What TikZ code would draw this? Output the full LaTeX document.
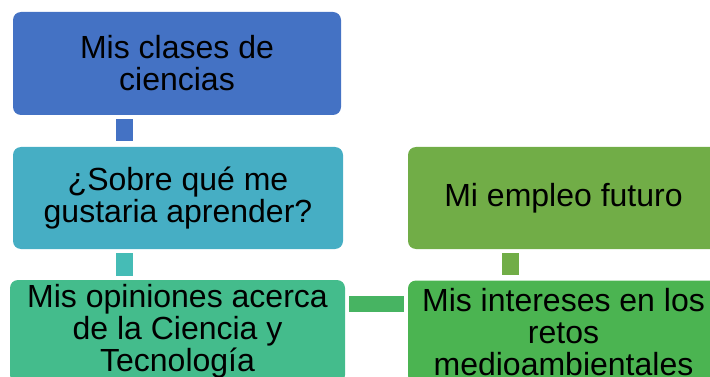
\documentclass[tikz,border=0pt]{standalone}
\usepackage{fontspec}
\setmainfont{Liberation Sans}
\definecolor{clasesblue}{HTML}{4472C4}
\definecolor{gustosteal}{HTML}{46AEC4}
\definecolor{gustoslink}{HTML}{45BCB6}
\definecolor{opinionesgreen}{HTML}{44BC8C}
\definecolor{opinioneslink}{HTML}{47B462}
\definecolor{empleoolive}{HTML}{71AD47}
\definecolor{interesesgreen}{HTML}{4BB451}
\tikzset{
    topicbox/.style={rounded corners=8pt, minimum width=#1, minimum height=103pt,
        inner sep=0pt, align=center, font=\fontsize{32}{32}\selectfont},
    linkbar/.style={line width=17pt}
}

\begin{document}
\begin{tikzpicture}[x=1pt, y=-1pt]
    \useasboundingbox (0,0) rectangle (710,377);
    \clip (0,0) rectangle (710,377);

    \node[topicbox=328pt, fill=clasesblue] (clases) at (177,63.5) {Mis clases de\\ciencias};
    \node[topicbox=330pt, fill=gustosteal, minimum height=102pt] (gustos) at (178,198) {¿Sobre qué me\\gustaria aprender?};
    \node[topicbox=335pt, fill=opinionesgreen] (opiniones) at (177.5,331.5) {Mis opiniones acerca\\de la Ciencia y\\Tecnología};
    \node[topicbox=311pt, fill=empleoolive, minimum height=102pt] (empleo) at (563.5,198) {Mi empleo futuro};
    \node[topicbox=311pt, fill=interesesgreen] (intereses) at (563.5,332) {Mis intereses en los\\retos\\medioambientales};

    \coordinate (c1) at ([xshift=111.5pt]clases.south west);
    \coordinate (c2) at ([xshift=111.5pt]gustos.south west);
    \coordinate (c3) at ([yshift=27.5pt]opiniones.east);
    \coordinate (c4) at ([xshift=102.5pt]empleo.south west);

    \draw[linkbar, draw=clasesblue, shorten <=4pt, shorten >=6pt] (c1) -- (c1 |- gustos.north);
    \draw[linkbar, draw=gustoslink, shorten <=4pt, shorten >=4pt] (c2) -- (c2 |- opiniones.north);
    \draw[linkbar, line width=16pt, draw=opinioneslink, shorten <=4pt, shorten >=4pt] (c3) -- (c3 -| intereses.west);
    \draw[linkbar, draw=empleoolive, shorten <=4pt, shorten >=5pt] (c4) -- (c4 |- intereses.north);
\end{tikzpicture}
\end{document}
